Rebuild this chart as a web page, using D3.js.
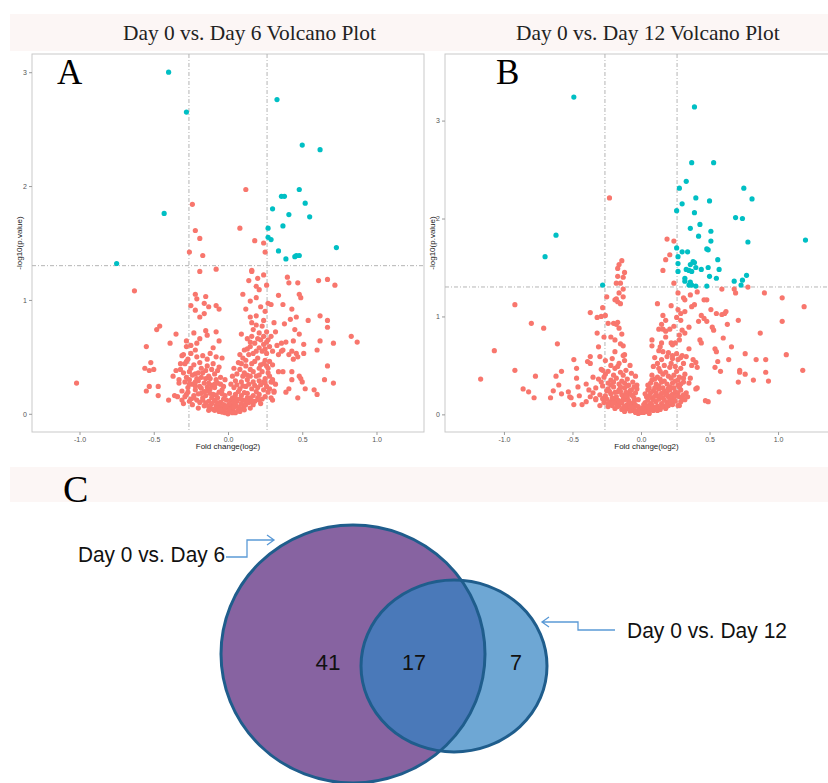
<!DOCTYPE html>
<html>
<head>
<meta charset="utf-8">
<script src="https://cdn.jsdelivr.net/npm/d3@7"></script>
<style>
body { margin: 0; background: #fff; }
svg { display: block; }
</style>
</head>
<body>
<script>
// ---- data ----
var xTicks = [-1, -0.5, 0, 0.5, 1];
var yTicks = [0, 1, 2, 3];
var fcCut = 0.263;   // log2(1.2)
var pCut = 1.301;    // -log10(0.05)
var panelTitles = ["Day 0 vs. Day 6 Volcano Plot", "Day 0 vs. Day 12 Volcano Plot"];
var panelLetters = ["A", "B", "C"];

// Day 0 vs Day 6: [fold change(log2), -log10(p)]
var day6Sig = [[-0.40,3.00],[-0.28,2.65],[0.33,2.76],[0.50,2.36],[0.62,2.32],[-0.43,1.76],[-0.75,1.32],
  [0.48,1.97],[0.36,1.91],[0.38,1.91],[0.52,1.85],[0.30,1.80],[0.41,1.75],[0.55,1.73],[0.27,1.63],
  [0.37,1.65],[0.27,1.55],[0.29,1.53],[0.73,1.46],[0.34,1.43],[0.39,1.36],[0.45,1.38],[0.46,1.39],[0.48,1.39]];

var day6NonSig = [
  [0.12,1.97],[-0.24,1.84],[-0.22,1.61],[-0.19,1.54],[0.08,1.63],[0.18,1.52],[0.24,1.50],[0.25,1.42],
  [-0.26,1.42],[-0.17,1.39],[-0.08,1.27],[-0.19,1.25],[0.16,1.26],[0.24,1.22],[0.20,1.19],[-0.63,1.08],[-1.02,0.27],
  [0.40,1.20],[0.41,1.15],[0.47,1.15],[0.61,1.17],[0.67,1.18],[0.72,1.13],[0.34,1.04],[0.48,1.05],[0.49,1.02],
  [0.29,0.96],[0.37,0.96],[0.43,0.92],[0.31,0.80],[0.38,0.79],[0.42,0.83],[0.46,0.85],[0.54,0.82],[0.62,0.86],
  [0.67,0.82],[0.67,0.76],[0.45,0.74],[0.48,0.70],[0.32,0.72],[0.44,0.64],[0.39,0.63],[0.36,0.62],[0.51,0.61],
  [0.62,0.64],[0.71,0.62],[0.60,0.56],[0.83,0.68],[0.87,0.63],[0.33,0.60],[0.36,0.55],[0.37,0.56],[0.34,0.52],
  [0.41,0.52],[0.44,0.48],[0.46,0.53],[0.47,0.50],[0.43,0.55],[0.51,0.53],[0.34,0.37],[0.37,0.37],[0.43,0.37],
  [0.48,0.33],[0.49,0.31],[0.43,0.30],[0.41,0.22],[0.39,0.19],[0.50,0.28],[0.52,0.22],[0.47,0.14],[0.58,0.21],
  [0.60,0.17],[0.65,0.30],[0.71,0.27],[0.67,0.42],[0.30,0.28],[0.30,0.12],[0.31,0.19],
  [-0.55,0.59],[-0.48,0.74],[-0.46,0.77],[-0.35,0.70],[-0.39,0.62],[-0.56,0.40],[-0.53,0.38],[-0.52,0.45],
  [-0.50,0.39],[-0.53,0.24],[-0.55,0.20],[-0.47,0.24],[-0.47,0.16],[-0.37,0.33],[-0.33,0.30],[-0.40,0.12],
  [-0.36,0.16],[-0.34,0.15],[-0.31,0.51],[-0.32,0.39],[-0.29,0.44],[-0.31,0.12],[-0.30,0.09],[-0.28,0.17],
  [-0.22,1.05],[-0.15,1.03],[-0.21,1.01],[-0.16,0.97],[-0.13,0.94],[-0.25,0.95],[-0.08,0.95],[-0.06,0.92],
  [-0.22,0.91],[-0.16,0.88],[-0.19,0.85],[-0.23,0.71],[-0.15,0.73],[-0.08,0.72],[-0.06,0.64],[-0.14,0.69],
  [-0.19,0.66],[-0.21,0.62],[-0.25,0.60],[-0.28,0.64],[-0.28,0.59],[0.16,1.25],
  [-0.30,0.52],[-0.25,0.53],[-0.21,0.50],[-0.17,0.51],[-0.12,0.53],[-0.08,0.50],[-0.04,0.49],
  [-0.32,0.44],[-0.28,0.46],[-0.23,0.43],[-0.19,0.45],[-0.14,0.42],[-0.10,0.44],[-0.06,0.41],
  [-0.35,0.38],[-0.30,0.36],[-0.26,0.37],[-0.22,0.35],[-0.17,0.36],[-0.13,0.33],[-0.09,0.35],[-0.05,0.32],[-0.02,0.30],
  [-0.33,0.27],[-0.29,0.28],[-0.24,0.26],[-0.20,0.29],[-0.16,0.27],[-0.11,0.25],[-0.07,0.27],[-0.03,0.24],
  [-0.31,0.20],[-0.27,0.19],[-0.22,0.21],[-0.18,0.18],[-0.14,0.20],[-0.10,0.17],[-0.06,0.19],[-0.02,0.16],
  [-0.25,0.13],[-0.21,0.12],[-0.17,0.14],[-0.13,0.11],[-0.09,0.12],[-0.05,0.10],[-0.01,0.12],
  [-0.16,0.07],[-0.12,0.06],[-0.08,0.07],[-0.04,0.05],[0.00,0.06],[-0.06,0.02],[-0.02,0.01],[0.01,0.02],
  [-0.27,0.23],[-0.19,0.24],[-0.12,0.22],[-0.04,0.21],[-0.23,0.16],[-0.15,0.16],[-0.07,0.14],[-0.19,0.10],
  [-0.11,0.09],[-0.03,0.08],[-0.28,0.32],[-0.21,0.31],[-0.15,0.31],[-0.08,0.30],[-0.25,0.40],[-0.18,0.40],
  [-0.11,0.39],[-0.27,0.48],[-0.14,0.48],[-0.22,0.56],[-0.10,0.58],[-0.26,0.11],[-0.29,0.15],[-0.20,0.05],
  [-0.09,0.03],[-0.13,0.03],[-0.24,0.08],
  [0.03,0.03],[0.05,0.01],[0.07,0.03],[0.03,0.07],[0.07,0.06],[0.11,0.07],[0.15,0.05],
  [0.02,0.12],[0.06,0.11],[0.10,0.12],[0.14,0.10],[0.18,0.11],[0.22,0.09],
  [0.01,0.18],[0.05,0.17],[0.09,0.16],[0.13,0.18],[0.17,0.16],[0.21,0.17],[0.25,0.15],[0.29,0.14],
  [0.04,0.23],[0.08,0.22],[0.12,0.24],[0.16,0.22],[0.20,0.23],[0.24,0.21],[0.28,0.22],[0.31,0.20],
  [0.05,0.29],[0.09,0.28],[0.13,0.30],[0.17,0.28],[0.21,0.29],[0.25,0.27],[0.29,0.28],[0.32,0.26],
  [0.08,0.39],[0.13,0.34],[0.17,0.37],[0.19,0.33],[0.23,0.37],[0.25,0.31],[0.27,0.36],[0.30,0.30],[0.06,0.35],[0.10,0.33],
  [0.10,0.49],[0.12,0.42],[0.16,0.44],[0.20,0.49],[0.22,0.43],[0.25,0.47],[0.26,0.42],[0.28,0.46],[0.07,0.45],[0.14,0.52],
  [0.17,0.53],[0.26,0.53],[0.23,0.55],[0.21,0.58],[0.15,0.59],[0.24,0.61],[0.28,0.59],[0.18,0.62],[0.11,0.56],[0.30,0.55],
  [0.13,0.66],[0.16,0.68],[0.22,0.65],[0.26,0.63],[0.21,0.71],[0.17,0.74],[0.26,0.72],[0.23,0.77],[0.19,0.78],[0.09,0.70],[0.29,0.68],
  [0.16,0.80],[0.24,0.82],[0.19,0.86],[0.15,0.85],[0.25,0.90],[0.22,0.94],[0.15,0.99],[0.12,0.92],[0.27,0.97],
  [0.10,1.05],[0.19,1.02],[0.21,1.09],[0.19,1.12],[0.26,1.13],[0.14,1.17],
  [-0.22,0.245],[-0.18,0.225],[-0.14,0.235],[-0.09,0.23],[-0.05,0.26],[0.02,0.26],[0.06,0.255],[0.10,0.245],
  [0.14,0.26],[0.18,0.25],[0.22,0.255],[0.26,0.24],[-0.20,0.175],[-0.16,0.195],[-0.12,0.18],[-0.08,0.165],
  [-0.04,0.175],[0.03,0.14],[0.07,0.195],[0.11,0.185],[0.15,0.14],[0.19,0.195],[0.23,0.13],[0.27,0.19],
  [-0.15,0.095],[-0.11,0.14],[-0.07,0.095],[-0.03,0.13],[0.01,0.09],[0.05,0.14],[0.09,0.09],[0.13,0.14],
  [0.17,0.08],[0.20,0.14],[-0.10,0.04],[-0.06,0.075],[-0.02,0.045],[0.02,0.045],[0.05,0.08],[0.09,0.045],
  [0.12,0.08],[-0.04,0.015],[0.00,0.00],[0.03,0.01],[-0.26,0.30],[-0.18,0.32],[-0.12,0.31],[0.03,0.33],
  [0.11,0.36],[0.15,0.33],[0.21,0.34],[0.28,0.33],[0.24,0.28],
  [0.04,0.40],[0.09,0.44],[0.15,0.39],[0.21,0.40],[0.27,0.40],[0.12,0.47],[0.18,0.46],[0.24,0.44],
  [0.30,0.43],[0.08,0.52],[0.13,0.57],[0.19,0.55],[0.25,0.57],[0.20,0.66],[0.24,0.68],[0.15,0.63],[0.27,0.65],
  [-0.20,0.36],[-0.15,0.38],[-0.07,0.38],[-0.24,0.34],[-0.13,0.27],[-0.09,0.26],[-0.26,0.26],[-0.22,0.28],
  [-0.13,0.065],[-0.07,0.05],[-0.05,0.035],[0.01,0.035],[0.04,0.055],[0.08,0.02],[0.11,0.035],[-0.09,0.11],
  [0.04,0.10],[0.08,0.13],[0.12,0.115],[0.16,0.115],[0.21,0.12],[-0.17,0.12],[-0.23,0.14],[-0.01,0.07]];

// Day 0 vs Day 12: [fold change(log2), -log10(p)]
var day12Sig = [[-0.49,3.24],[0.39,3.14],[0.37,2.57],[0.53,2.57],[0.33,2.38],[0.28,2.31],[0.75,2.31],
  [0.40,2.21],[0.81,2.20],[0.50,2.18],[0.30,2.15],[0.26,2.08],[0.39,2.06],[0.69,2.01],[0.74,2.00],
  [-0.62,1.83],[0.43,1.94],[0.36,1.90],[0.51,1.87],[0.42,1.82],[1.20,1.78],[0.51,1.77],[0.78,1.76],
  [0.26,1.70],[0.48,1.69],[0.49,1.68],[0.30,1.66],[0.34,1.66],[-0.70,1.61],[0.27,1.61],[0.56,1.58],
  [0.38,1.56],[0.39,1.55],[0.36,1.53],[0.27,1.54],[0.40,1.50],[0.49,1.50],[0.44,1.48],[0.57,1.48],
  [0.33,1.48],[0.35,1.47],[0.37,1.46],[0.27,1.46],[0.77,1.42],[0.50,1.41],[0.55,1.39],[0.32,1.39],
  [0.32,1.36],[0.74,1.37],[0.68,1.36],[0.36,1.35],[0.35,1.32],[0.37,1.32],[0.40,1.31],[0.48,1.31],
  [0.73,1.32],[-0.28,1.32]];

var day12NonSig = [
  [-0.23,2.21],[0.19,1.79],[0.24,1.77],[0.21,1.63],[0.18,1.58],[0.16,1.47],[0.24,1.34],[0.78,1.30],
  [-0.14,1.57],[-0.16,1.53],[-0.17,1.49],[-0.12,1.45],[-0.17,1.41],[-0.13,1.40],[-0.18,1.34],[-0.15,1.34],
  [-0.25,1.20],[-0.19,1.17],[-0.17,1.15],[-0.15,1.13],[-0.13,1.20],[-0.13,1.28],[-0.16,1.24],[-0.28,1.09],
  [-0.29,1.00],[-0.32,0.99],[-0.26,1.01],[-0.24,0.93],[-0.20,0.93],[-0.18,0.92],[-0.17,0.94],[-0.16,0.88],
  [-0.14,0.82],[-0.27,0.79],[-0.22,0.79],[-0.19,0.76],[-0.15,0.72],[-0.13,0.70],[-0.12,0.61],[-0.18,1.18],
  [-0.92,1.12],[-0.80,0.93],[-0.71,0.88],[-0.61,0.72],[-1.07,0.65],[-0.92,0.45],[-1.17,0.36],[-0.77,0.39],
  [-0.86,0.26],[-0.82,0.23],[-0.78,0.17],[-0.66,0.17],[-0.64,0.24],[-0.62,0.39],[-0.60,0.30],[-0.58,0.44],
  [-0.58,0.21],[-0.52,0.18],[-0.49,0.56],[-0.47,0.47],[-0.46,0.28],[-0.45,0.19],[-0.43,0.10],[-0.39,0.54],
  [-0.37,0.59],[-0.37,0.52],[-0.40,0.31],[-0.37,1.04],[-0.32,0.83],[-0.31,0.69],[-0.30,0.59],[-0.28,0.45],
  [-0.35,0.38],[-0.37,0.18],[-0.33,0.16],[-0.47,0.37],[-0.51,0.17],[-0.53,0.23],[-0.49,0.10],[-0.40,0.13],
  [0.90,1.24],[1.03,1.19],[1.19,1.10],[1.03,0.95],[0.87,0.83],[1.06,0.61],[0.91,0.56],[1.18,0.45],
  [0.91,0.43],[0.93,0.34],[0.82,0.35],[0.76,0.41],[0.72,0.43],[0.72,0.45],[0.71,0.33],[0.76,0.62],
  [0.84,0.56],[0.71,0.96],[0.64,0.56],[0.63,0.92],[0.66,0.69],[0.60,0.78],[0.62,1.05],[0.61,1.03],
  [0.59,1.02],[0.68,1.28],[0.69,1.24],[0.59,1.28],[0.57,0.23],[0.49,0.13],[0.58,0.44],[0.56,0.54],
  [0.54,0.48],[0.55,0.64],[0.54,0.67],[0.53,0.86],[0.52,0.89],[0.55,1.03],[0.51,1.07],[0.48,1.17],
  [0.46,0.98],[0.48,0.95],[0.44,1.01],[0.42,0.95],[0.41,1.25],[0.43,0.76],[0.44,0.73],[0.40,0.53],
  [0.41,0.48],[0.41,0.27],[0.40,0.26],[0.47,0.14],[0.35,0.67],[0.33,0.59],[0.35,0.89],[0.32,0.83],
  [0.39,1.12],[0.37,1.10],[0.32,1.05],[0.37,0.50],[0.38,0.56],[0.36,0.37],[0.35,0.32],[0.34,0.18],[0.28,0.09],
  [-0.26,0.55],[-0.21,0.57],[-0.16,0.52],[-0.12,0.55],[-0.08,0.50],
  [-0.29,0.46],[-0.24,0.44],[-0.19,0.47],[-0.15,0.43],[-0.11,0.45],[-0.07,0.42],[-0.04,0.39],
  [-0.31,0.36],[-0.27,0.38],[-0.22,0.35],[-0.18,0.37],[-0.14,0.34],[-0.10,0.36],[-0.06,0.33],[-0.03,0.30],
  [-0.33,0.27],[-0.28,0.29],[-0.24,0.26],[-0.20,0.28],[-0.16,0.25],[-0.12,0.27],[-0.08,0.24],[-0.04,0.22],
  [-0.30,0.20],[-0.26,0.19],[-0.22,0.21],[-0.18,0.18],[-0.14,0.20],[-0.10,0.17],[-0.06,0.19],[-0.02,0.15],
  [-0.27,0.12],[-0.22,0.13],[-0.18,0.11],[-0.14,0.12],[-0.10,0.10],[-0.06,0.11],[-0.02,0.08],
  [-0.19,0.06],[-0.14,0.05],[-0.10,0.06],[-0.06,0.04],[-0.03,0.03],[-0.02,0.01],[0.00,0.02],
  [-0.25,0.24],[-0.17,0.23],[-0.09,0.21],[-0.20,0.15],[-0.12,0.15],[-0.05,0.13],[-0.24,0.32],[-0.16,0.31],
  [-0.09,0.30],[-0.26,0.41],[-0.20,0.40],[-0.13,0.40],[-0.35,0.22],[-0.38,0.25],[-0.33,0.15],[-0.30,0.09],
  [-0.24,0.08],[-0.16,0.09],[-0.08,0.08],[-0.12,0.03],[-0.17,0.49],[-0.22,0.50],[-0.13,0.60],[-0.19,0.64],
  [0.02,0.02],[0.04,0.03],[0.06,0.01],[0.02,0.07],[0.06,0.06],[0.10,0.07],[0.14,0.05],[0.18,0.06],
  [0.03,0.12],[0.07,0.11],[0.11,0.13],[0.15,0.11],[0.19,0.12],[0.23,0.10],[0.27,0.09],
  [0.04,0.18],[0.08,0.17],[0.12,0.19],[0.16,0.17],[0.20,0.18],[0.24,0.16],[0.28,0.18],[0.32,0.15],
  [0.05,0.25],[0.09,0.24],[0.13,0.26],[0.17,0.24],[0.21,0.25],[0.25,0.23],[0.29,0.25],[0.33,0.22],
  [0.07,0.32],[0.11,0.31],[0.15,0.33],[0.19,0.31],[0.23,0.32],[0.27,0.30],[0.31,0.33],
  [0.08,0.40],[0.12,0.38],[0.16,0.41],[0.20,0.39],[0.24,0.40],[0.28,0.38],[0.32,0.41],
  [0.09,0.49],[0.13,0.47],[0.17,0.50],[0.21,0.48],[0.25,0.49],[0.29,0.47],[0.31,0.52],
  [0.10,0.58],[0.15,0.56],[0.19,0.59],[0.23,0.57],[0.27,0.56],[0.30,0.60],
  [0.08,0.70],[0.13,0.65],[0.16,0.64],[0.20,0.63],[0.23,0.60],[0.26,0.62],[0.29,0.58],[0.14,0.69],[0.08,0.76],
  [0.22,0.73],[0.23,0.71],[0.25,0.73],[0.15,0.73],[0.18,0.79],[0.28,0.76],
  [0.13,0.87],[0.16,0.87],[0.18,0.85],[0.21,0.87],[0.24,0.90],[0.30,0.86],[0.28,0.81],
  [0.16,1.01],[0.18,0.96],[0.15,0.92],[0.26,0.99],[0.29,0.96],[0.27,1.07],[0.29,1.03],
  [0.12,1.13],[0.22,1.11],[0.27,1.24],[0.31,1.19],[0.36,1.22],[0.46,1.17],[0.32,1.17],
  [-0.23,0.235],[-0.19,0.225],[-0.15,0.235],[-0.11,0.225],[-0.07,0.25],[-0.03,0.26],[0.03,0.21],[0.07,0.22],
  [0.11,0.22],[0.15,0.215],[0.19,0.22],[0.23,0.205],[0.27,0.22],[0.31,0.20],[-0.25,0.155],[-0.21,0.17],
  [-0.17,0.145],[-0.13,0.16],[-0.09,0.14],[-0.05,0.165],[0.02,0.10],[0.05,0.145],[0.09,0.145],[0.13,0.155],
  [0.17,0.145],[0.21,0.15],[0.25,0.135],[0.29,0.13],[-0.21,0.09],[-0.17,0.08],[-0.12,0.085],[-0.08,0.115],
  [-0.04,0.095],[0.01,0.05],[0.04,0.09],[0.08,0.095],[0.12,0.085],[0.16,0.09],[0.20,0.09],[-0.08,0.035],
  [-0.05,0.06],[-0.01,0.04],[0.03,0.045],[0.06,0.04],[0.09,0.04],[0.12,0.04],[-0.29,0.33],[-0.20,0.33],
  [-0.12,0.32],[-0.05,0.28],[0.05,0.30],[0.13,0.29],[0.17,0.34],[0.21,0.28],[0.25,0.34],[0.29,0.31],
  [0.10,0.36],[0.18,0.43],[0.26,0.44],[0.14,0.44],[0.22,0.52],[0.12,0.52],
  [-0.13,0.065],[-0.07,0.075],[-0.04,0.02],[0.01,0.065],[0.05,0.08],[0.08,0.06],[0.11,0.06],[0.15,0.075],
  [0.19,0.085],[0.22,0.13],[-0.16,0.135],[-0.20,0.12],[-0.24,0.11],[-0.28,0.16],[-0.11,0.19],[-0.07,0.20],
  [0.06,0.19],[0.10,0.185],[0.14,0.19],[0.18,0.20],[0.22,0.19],[0.26,0.19],[0.30,0.17],
  [0.06,0.27],[0.10,0.27],[0.16,0.27],[0.20,0.265],[0.24,0.27],[0.28,0.28],[-0.22,0.30],[-0.15,0.28],
  [-0.10,0.29],[0.08,0.35],[0.14,0.36],[0.22,0.37],[0.27,0.35],[0.31,0.37]];

// Venn: counts in [Day 6 only, shared, Day 12 only]
var vennSets = ["Day 0 vs. Day 6", "Day 0 vs. Day 12"];
var vennCounts = [41, 17, 7];

// ---- drawing ----
var width = 828, height = 783;
var red = "#F8766D", teal = "#00BFC4";

var svg = d3.select("body").append("svg")
    .attr("width", width)
    .attr("height", height);

// title bands
svg.append("rect").attr("x", 10).attr("y", 14).attr("width", 818).attr("height", 37).attr("fill", "#fcf6f5");
svg.append("rect").attr("x", 10).attr("y", 467).attr("width", 818).attr("height", 35).attr("fill", "#fcf6f5");

function drawVolcano(o) {
    var xScale = d3.scaleLinear().domain(o.xDomain).range([o.left, o.right]);
    var yScale = d3.scaleLinear().domain(o.yDomain).range([o.bottom, o.top]);
    var g = svg.append("g");

    g.append("rect")
        .attr("x", o.left).attr("y", o.top)
        .attr("width", Math.min(o.right, width + 2) - o.left)
        .attr("height", o.bottom - o.top)
        .attr("fill", "#fff")
        .attr("stroke", "#c9c9c9");

    var dash = "4,2,1,2";
    [-fcCut, fcCut].forEach(function(v) {
        g.append("line")
            .attr("x1", xScale(v)).attr("x2", xScale(v))
            .attr("y1", o.top).attr("y2", o.bottom)
            .attr("stroke", "#b5b5b5").attr("stroke-dasharray", dash);
    });
    g.append("line")
        .attr("x1", o.left).attr("x2", o.right)
        .attr("y1", yScale(pCut)).attr("y2", yScale(pCut))
        .attr("stroke", "#b5b5b5").attr("stroke-dasharray", dash);

    var pts = o.nonsig.map(function(d) { return { x: d[0], y: d[1], c: red }; })
        .concat(o.sig.map(function(d) { return { x: d[0], y: d[1], c: teal }; }));
    g.selectAll("circle.pt")
        .data(pts)
        .enter().append("circle")
        .attr("class", "pt")
        .attr("cx", function(d) { return xScale(d.x); })
        .attr("cy", function(d) { return yScale(d.y); })
        .attr("r", 2.6)
        .attr("fill", function(d) { return d.c; });

    var xAxis = g.append("g")
        .attr("transform", "translate(0," + o.bottom + ")")
        .call(d3.axisBottom(xScale).tickValues(xTicks).tickSize(3).tickPadding(2)
            .tickFormat(function(d) { return d.toFixed(1); }));
    var yAxis = g.append("g")
        .attr("transform", "translate(" + o.left + ",0)")
        .call(d3.axisLeft(yScale).tickValues(yTicks).tickSize(3).tickPadding(2)
            .tickFormat(function(d) { return d; }));
    [xAxis, yAxis].forEach(function(a) {
        a.select(".domain").remove();
        a.selectAll(".tick line").attr("stroke", "#9a9a9a");
        a.selectAll(".tick text")
            .attr("fill", "#555")
            .attr("font-family", "Liberation Sans, Arial, sans-serif")
            .attr("font-size", 7);
    });

    g.append("text")
        .attr("x", (o.left + Math.min(o.right, width)) / 2 + o.xTitleShift)
        .attr("y", o.bottom + 17)
        .attr("text-anchor", "middle")
        .attr("font-family", "Liberation Sans, Arial, sans-serif")
        .attr("font-size", 8)
        .attr("fill", "#222")
        .text("Fold change(log2)");
    g.append("text")
        .attr("transform", "translate(" + (o.left - 10) + "," + ((o.top + o.bottom) / 2) + ") rotate(-90)")
        .attr("text-anchor", "middle")
        .attr("font-family", "Liberation Sans, Arial, sans-serif")
        .attr("font-size", 8)
        .attr("fill", "#222")
        .text("-log10(p.value)");

    svg.append("text")
        .attr("x", o.titleX).attr("y", 40)
        .attr("font-family", "Liberation Serif, Times New Roman, serif")
        .attr("font-size", 21.4)
        .attr("fill", "#222")
        .text(o.title);
    svg.append("text")
        .attr("x", o.letterX).attr("y", 84)
        .attr("font-family", "Liberation Serif, Times New Roman, serif")
        .attr("font-size", 35)
        .attr("fill", "#000")
        .text(o.letter);
}

drawVolcano({
    left: 32, right: 424, top: 54, bottom: 432,
    xDomain: [-1.32, 1.32], yDomain: [-0.16, 3.16],
    sig: day6Sig, nonsig: day6NonSig,
    title: panelTitles[0], titleX: 123,
    letter: panelLetters[0], letterX: 57, xTitleShift: 0
});
drawVolcano({
    left: 445, right: 837, top: 54, bottom: 432,
    xDomain: [-1.43, 1.43], yDomain: [-0.18, 3.68],
    sig: day12Sig, nonsig: day12NonSig,
    title: panelTitles[1], titleX: 516,
    letter: panelLetters[1], letterX: 496, xTitleShift: 10
});

// ---- panel C: Venn ----
svg.append("text")
    .attr("x", 63).attr("y", 502)
    .attr("font-family", "Liberation Serif, Times New Roman, serif")
    .attr("font-size", 38)
    .text(panelLetters[2]);

var big = { cx: 353, cy: 654, rx: 132, ry: 129 };
var small = { cx: 454, cy: 666, rx: 93, ry: 86 };
var edge = "#1f5d8c";

var defs = svg.append("defs");
defs.append("clipPath").attr("id", "clipBig")
    .append("ellipse")
    .attr("cx", big.cx).attr("cy", big.cy).attr("rx", big.rx).attr("ry", big.ry);

var venn = svg.append("g");
venn.append("ellipse")
    .attr("cx", big.cx).attr("cy", big.cy).attr("rx", big.rx).attr("ry", big.ry)
    .attr("fill", "#8763a1");
venn.append("ellipse")
    .attr("cx", small.cx).attr("cy", small.cy).attr("rx", small.rx).attr("ry", small.ry)
    .attr("fill", "#6ea7d4");
venn.append("ellipse")
    .attr("clip-path", "url(#clipBig)")
    .attr("cx", small.cx).attr("cy", small.cy).attr("rx", small.rx).attr("ry", small.ry)
    .attr("fill", "#4a79b9");
[big, small].forEach(function(e) {
    venn.append("ellipse")
        .attr("cx", e.cx).attr("cy", e.cy).attr("rx", e.rx).attr("ry", e.ry)
        .attr("fill", "none")
        .attr("stroke", edge)
        .attr("stroke-width", 3);
});

var labelFont = "Liberation Sans, Arial, sans-serif";
var numX = [328, 414, 516];
var numW = [25, 24, 12];
venn.selectAll("text.count")
    .data(vennCounts)
    .enter().append("text")
    .attr("class", "count")
    .attr("x", function(d, i) { return numX[i] - numW[i] / 2; })
    .attr("y", 670)
    .attr("font-family", labelFont)
    .attr("font-size", 22)
    .attr("textLength", function(d, i) { return numW[i]; })
    .attr("lengthAdjust", "spacingAndGlyphs")
    .attr("fill", "#111")
    .text(function(d) { return d; });

svg.append("text")
    .attr("x", 78).attr("y", 562)
    .attr("font-family", labelFont)
    .attr("font-size", 22)
    .attr("textLength", 147)
    .attr("lengthAdjust", "spacingAndGlyphs")
    .attr("fill", "#111")
    .text(vennSets[0]);
svg.append("text")
    .attr("x", 627).attr("y", 638)
    .attr("font-family", labelFont)
    .attr("font-size", 22)
    .attr("textLength", 160)
    .attr("lengthAdjust", "spacingAndGlyphs")
    .attr("fill", "#111")
    .text(vennSets[1]);

var arrowColor = "#5b9ad6";
svg.append("path")
    .attr("d", "M226,557 H247 V540 H274 M267,535 L274,540 L267,545")
    .attr("fill", "none").attr("stroke", arrowColor).attr("stroke-width", 1.3);
svg.append("path")
    .attr("d", "M615,630 H578 V622 H542 M549,617 L542,622 L549,627")
    .attr("fill", "none").attr("stroke", arrowColor).attr("stroke-width", 1.3);
</script>
</body>
</html>
